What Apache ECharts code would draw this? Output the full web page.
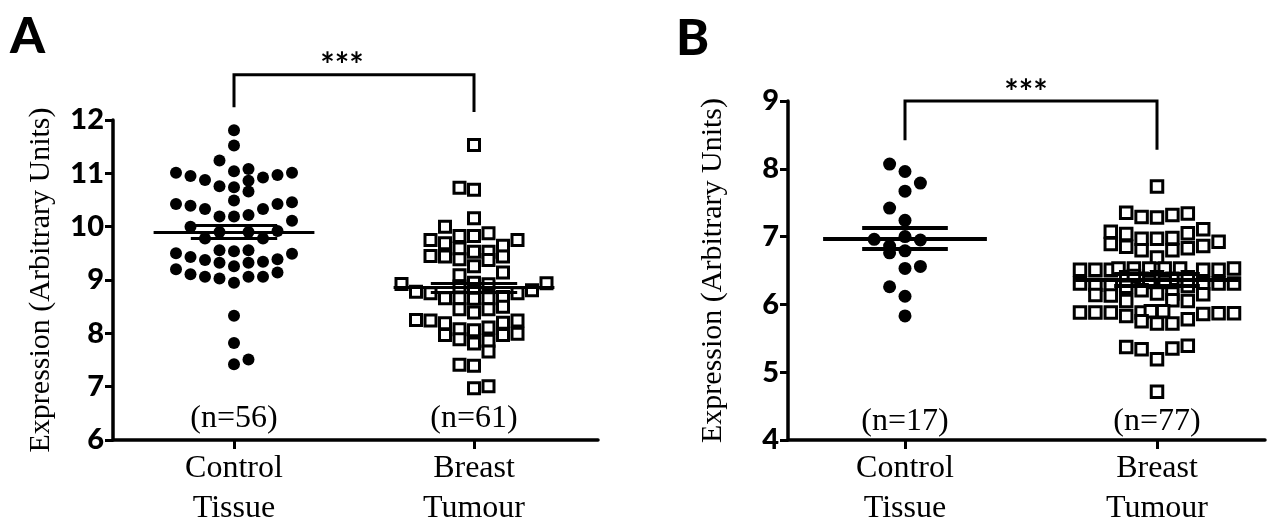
<!DOCTYPE html>
<html><head><meta charset="utf-8">
<script src="https://cdn.jsdelivr.net/npm/echarts@6/dist/echarts.min.js"></script>
<style>html,body{margin:0;padding:0;background:#fff}#c{width:1273px;height:521px}</style>
</head><body><div id="c"></div>
<script>
// ---------------- DATA ----------------
const categories = ['Control\nTissue', 'Breast\nTumour'];
const nLabelsA = ['(n=56)', '(n=61)'];
const nLabelsB = ['(n=17)', '(n=77)'];
const yTicksA = [6, 7, 8, 9, 10, 11, 12];
const yTicksB = [4, 5, 6, 7, 8, 9];
const signifA = '***';
const signifB = '***';
// each point: [swarm column index, expression value]
const controlA = [
  [0,11.81],[0,11.52],[-1,11.24],
  [-4,11.01],[-3,10.95],[-2,10.875],[-1,10.76],[0,11.04],[0,10.74],[1,11.08],[1,10.86],[1,10.66],[2,10.92],[3,10.97],[4,11.01],
  [-4,10.425],[-3,10.39],[-2,10.33],[-1,10.19],[0,10.49],[0,10.19],[1,10.22],[2,10.33],[3,10.425],[4,10.46],[4,10.11],
  [-3,10.0],[-2,9.78],[-1,9.9],[1,9.9],[2,9.78],[3,9.92],
  [-1,9.56],[0,9.54],[1,9.56],
  [-4,9.5],[-3,9.43],[-2,9.375],[-1,9.325],[0,9.26],[1,9.325],[2,9.34],[3,9.39],[4,9.49],
  [-4,9.2],[-3,9.11],[-2,9.06],[-1,9.03],[0,8.95],[1,9.06],[2,9.06],[3,9.14],
  [0,8.33],[0,7.82],[0,7.42],[1,7.51]
];
const tumourA = [
  [0,11.53],[-1,10.73],[0,10.69],[0,10.16],[-2,10.0],
  [-3,9.75],[-2,9.69],[-1,9.825],[0,9.825],[1,9.875],[2,9.64],[3,9.75],
  [-3,9.45],[-2,9.44],[-1,9.59],[-1,9.39],[0,9.53],[0,9.26],[1,9.53],[1,9.375],[2,9.44],
  [-1,9.09],[2,9.14],
  [0,8.95],[1,8.92],[-1,8.88],[0,8.8],
  [-5,8.925],[5,8.94],[-4,8.78],[-3,8.75],[-2,8.66],[-1,8.66],[0,8.65],[1,8.66],[2,8.68],[3,8.75],[4,8.81],
  [-1,8.45],[0,8.39],[1,8.45],[2,8.5],
  [-4,8.25],[-3,8.24],[-2,8.19],[-1,8.075],[0,8.06],[1,8.11],[2,8.2],[3,8.24],
  [-2,7.97],[-1,7.89],[0,7.81],[1,7.86],[2,7.97],[3,7.99],
  [1,7.66],[-1,7.41],[0,7.39],[0,6.97],[1,7.01]
];
const controlB = [
  [-1,8.07],[0,7.96],[1,7.79],[0,7.67],[-1,7.42],[0,7.24],
  [-2,6.96],[0,7.0],[1,6.95],[-1,6.86],[-1,6.76],[0,6.79],
  [0,6.53],[1,6.56],[-1,6.26],[0,6.12],[0,5.83]
];
const tumourB = [
  [0,7.74],
  [-2,7.35],[-1,7.29],[0,7.28],[1,7.32],[2,7.34],
  [-3,7.07],[-2,7.04],[-1,6.97],[0,6.97],[1,6.98],[2,7.05],[3,7.11],
  [-3,6.89],[-2,6.85],[-1,6.80],[0,6.69],[1,6.80],[2,6.83],[3,6.86],[4,6.925],
  [-5,6.51],[-4,6.51],[-3,6.51],[-2.5,6.53],[-1.5,6.53],[-0.5,6.53],[0.5,6.53],[1.5,6.53],[3,6.51],[4,6.51],[5,6.53],
  [-2,6.4],[-1,6.38],[0,6.4],[1,6.38],[2,6.4],[-0.5,6.33],[0.5,6.33],[-1.5,6.42],
  [-5,6.31],[-4,6.29],[-3,6.29],[-2,6.26],[2,6.27],[3,6.31],[4,6.31],[5,6.31],
  [-4,6.14],[-3,6.13],[-1,6.21],[0,6.16],[1,6.16],[3,6.15],[-2,6.05],[2,6.05],[1,6.06],
  [-5,5.88],[-4,5.88],[-3,5.88],[-2,5.83],[-1,5.88],[-0.4,5.9],[0.4,5.9],[3,5.86],[4,5.87],[5,5.87],
  [-1,5.75],[0,5.72],[1,5.72],[2,5.78],
  [-2,5.37],[-1,5.34],[0,5.19],[1,5.35],[2,5.39],
  [0,4.71]
];
const meanA = [9.9, 8.86];
const semA = [0.12, 0.085];
const meanB = [6.975, 6.36];
const semB = [0.155, 0.085];

// ---------------- LAYOUT ----------------
const P = {
  A: {left:113, right:598, top:120, bottom:440, cat:[234,474], col:14.5, yMin:6, yMax:12,
      bracket:{y:12.85, l:12.24, r:12.15}, star:[1.45, 13.02], nY:6.4, meanHW:0.335, semHW:0.18, titleGap:57},
  B: {left:788, right:1265, top:101, bottom:440, cat:[905,1157], col:15.4, yMin:4, yMax:9,
      bracket:{y:9.0, l:8.42, r:8.28}, star:[1.48, 9.12], nY:4.27, meanHW:0.325, semHW:0.17, titleGap:60}
};
function xRange(p){
  const sp = p.cat[1]-p.cat[0];
  return {min: 1-(p.cat[0]-p.left)/sp, max: 2+(p.right-p.cat[1])/sp, unit: p.col/sp};
}
const RA = xRange(P.A), RB = xRange(P.B);

const serif = '"Liberation Serif", "DejaVu Serif", serif';
const sans = 'Lato, "Liberation Sans", sans-serif';

function grid(p){ return {left:p.left, top:p.top, width:p.right-p.left, height:p.bottom-p.top,
  containLabel:false, outerBoundsMode:'none'}; }
function xAxis(idx, R){
  return {
    type:'value', gridIndex:idx, min:R.min, max:R.max,
    splitLine:{show:false},
    axisLine:{show:true, onZero:false, lineStyle:{color:'#000', width:3.5}},
    axisTick:{show:true, customValues:[1,2], length:9, lineStyle:{color:'#000', width:3}},
    axisLabel:{show:true, customValues:[1,2], formatter:v=>categories[Math.round(v)-1],
      color:'#000', fontFamily:serif, fontSize:32, lineHeight:40, margin:9}
  };
}
function yAxis(idx, p, ticks){
  return {
    type:'value', gridIndex:idx, min:p.yMin, max:p.yMax, interval:1,
    name:'Expression (Arbitrary Units)', nameLocation:'middle', nameGap:p.titleGap, nameRotate:90,
    nameTextStyle:{color:'#000', fontFamily:serif, fontSize:30},
    splitLine:{show:false},
    axisLine:{show:true, lineStyle:{color:'#000', width:3.5}},
    axisTick:{show:true, length:8, lineStyle:{color:'#000', width:3}},
    axisLabel:{color:'#000', fontFamily:sans, fontWeight:900, fontSize:29, margin:9,
      formatter:v=>ticks.includes(v)?String(v):''}
  };
}
function pts(arr, cat, R){ return arr.map(([c,v])=>[cat + c*R.unit, v]); }
function dotSeries(idx, data, isSquare, size){
  return {
    type:'scatter', xAxisIndex:idx, yAxisIndex:idx, data, z:2, clip:false,
    symbol: isSquare?'rect':'circle', symbolSize:size,
    itemStyle: isSquare?{color:'#fff', borderColor:'#000', borderWidth:3, opacity:1}:{color:'#000', opacity:1},
    silent:true, animation:false
  };
}
function statSeries(idx, p, mean, sem, lw){
  const d = [];
  [0,1].forEach(i=>{
    const c = i+1;
    d.push({coords:[[c-p.meanHW, mean[i]],[c+p.meanHW, mean[i]]]});
    d.push({coords:[[c-p.semHW, mean[i]+sem[i]],[c+p.semHW, mean[i]+sem[i]]]});
    d.push({coords:[[c-p.semHW, mean[i]-sem[i]],[c+p.semHW, mean[i]-sem[i]]]});
  });
  return {type:'lines', coordinateSystem:'cartesian2d', xAxisIndex:idx, yAxisIndex:idx, z:5,
    lineStyle:{color:'#000', width:lw, opacity:1}, data:d, silent:true, animation:false};
}
function bracketSeries(idx, p){
  const b = p.bracket;
  return {type:'lines', coordinateSystem:'cartesian2d', xAxisIndex:idx, yAxisIndex:idx, z:5,
    polyline:true, clip:false, lineStyle:{color:'#000', width:3, opacity:1},
    data:[{coords:[[1,b.l],[1,b.y],[2,b.y],[2,b.r]]}], silent:true, animation:false};
}
function textSeries(idx, items, font, size, weight){
  return {type:'scatter', xAxisIndex:idx, yAxisIndex:idx, clip:false, symbolSize:0, z:6,
    itemStyle:{opacity:1},
    data: items.map(it=>({value:[it[0], it[1]], label:{show:true, position:'inside', formatter:it[2]}})),
    label:{color:'#000', opacity:1, fontFamily:font, fontSize:size, fontWeight:weight||'normal'},
    silent:true, animation:false};
}

const chart = echarts.init(document.getElementById('c'), null, {renderer:'canvas'});
chart.setOption({
  backgroundColor:'#fff',
  animation:false,
  grid:[grid(P.A), grid(P.B)],
  xAxis:[xAxis(0, RA), xAxis(1, RB)],
  yAxis:[yAxis(0, P.A, yTicksA), yAxis(1, P.B, yTicksB)],
  graphic:[
    {type:'text', left:10, top:12, style:{text:'A', fontFamily:sans, fontWeight:900, fontSize:50, fill:'#000'}},
    {type:'text', left:676, top:14, style:{text:'B', fontFamily:sans, fontWeight:900, fontSize:50, fill:'#000'}}
  ],
  series:[
    dotSeries(0, pts(controlA, 1, RA), false, 12),
    dotSeries(0, pts(tumourA, 2, RA), true, 11),
    dotSeries(1, pts(controlB, 1, RB), false, 13),
    dotSeries(1, pts(tumourB, 2, RB), true, 11.5),
    statSeries(0, P.A, meanA, semA, 3),
    statSeries(1, P.B, meanB, semB, 4),
    bracketSeries(0, P.A),
    bracketSeries(1, P.B),
    textSeries(0, [[1, P.A.nY, nLabelsA[0]], [2, P.A.nY, nLabelsA[1]]], serif, 32),
    textSeries(1, [[1, P.B.nY, nLabelsB[0]], [2, P.B.nY, nLabelsB[1]]], serif, 32),
    textSeries(0, [[P.A.star[0], P.A.star[1], signifA]], sans, 34, 'bold'),
    textSeries(1, [[P.B.star[0], P.B.star[1], signifB]], sans, 34, 'bold')
  ]
});
</script></body></html>
